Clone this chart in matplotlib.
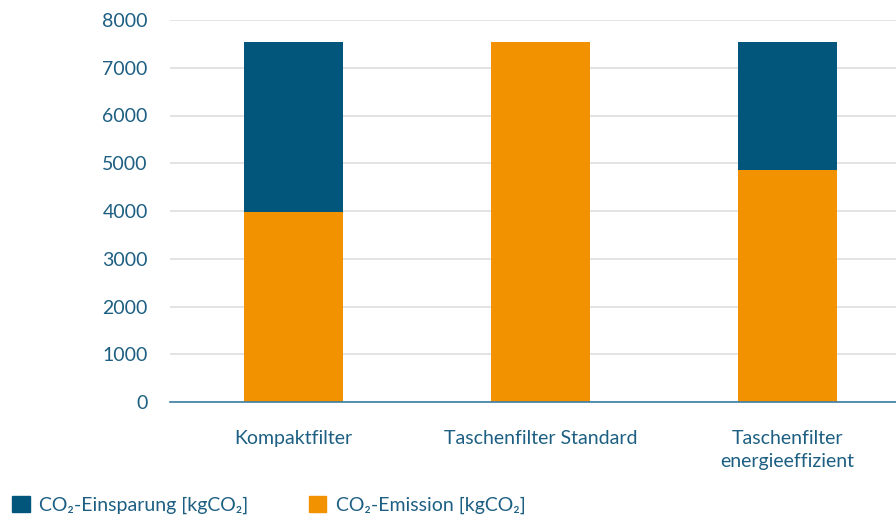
import numpy as np
import matplotlib
matplotlib.use('Agg')
import matplotlib.pyplot as plt
from matplotlib.patches import Patch

categories = ['Kompaktfilter', 'Taschenfilter Standard', 'Taschenfilter\nenergieeffizient']
emission = [3980, 7540, 4860]
einsparung = [3560, 0, 2680]
yticks = [0, 1000, 2000, 3000, 4000, 5000, 6000, 7000, 8000]

c_blue = '#02567c'
c_orange = '#f39200'
c_text = '#1d5f82'

plt.rcParams['font.family'] = ['Lato', 'DejaVu Sans']

fig = plt.figure(figsize=(8.96, 5.15), dpi=100)
ax = fig.add_axes([170/896, 113/515, 726/896, 382/515])

x = np.arange(len(categories))
ax.bar(x, emission, width=0.4, color=c_orange, zorder=2)
ax.bar(x, einsparung, width=0.4, bottom=emission, color=c_blue, zorder=2)

ax.set_xlim(-0.5, 2.44)
ax.set_ylim(0, 8000)
ax.set_yticks(yticks)
ax.set_yticklabels([str(v) for v in yticks], fontsize=14, color=c_text)
ax.set_xticks(x)
ax.set_xticklabels(categories, fontsize=14, color=c_text, linespacing=1.45)
ax.tick_params(axis='x', length=0, pad=20)
ax.tick_params(axis='y', length=0, pad=16)

ax.grid(axis='y', color='#dedede', linewidth=1.2, zorder=0)
for s in ['top', 'right', 'left']:
    ax.spines[s].set_visible(False)
ax.spines['bottom'].set_color('#3b7ea3')
ax.spines['bottom'].set_linewidth(1.2)
ax.spines['bottom'].set_zorder(3)

handles = [Patch(color=c_blue), Patch(color=c_orange)]
labels = ['CO\u2082-Einsparung [kgCO\u2082]', 'CO\u2082-Emission [kgCO\u2082]']
leg = fig.legend(handles, labels, loc='lower left', bbox_to_anchor=(12/896, 1/515), ncol=2,
                 frameon=False, fontsize=14, handlelength=0.9, handleheight=0.9,
                 handletextpad=0.5, columnspacing=3.1, borderpad=0, borderaxespad=0)
for t in leg.get_texts():
    t.set_color(c_text)

fig.savefig('out.png', dpi=100)
